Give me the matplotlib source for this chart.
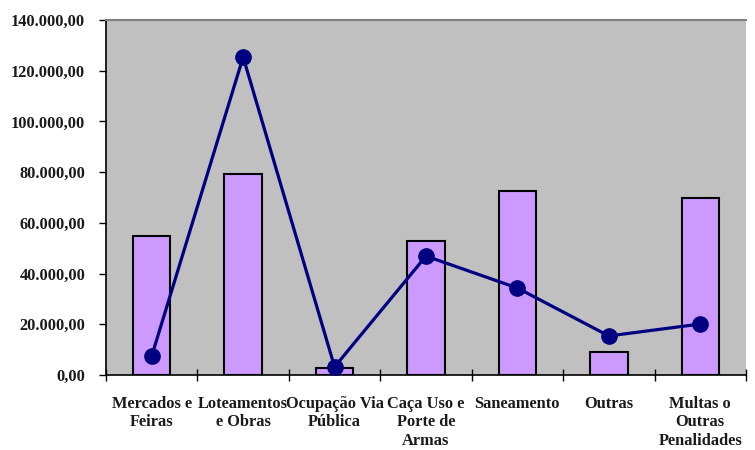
import numpy as np
import matplotlib.pyplot as plt
from matplotlib.ticker import FuncFormatter, FixedLocator

categories = ['Mercados e\nFeiras', 'Loteamentos\ne Obras', 'Ocupação Via\nPública',
              'Caça Uso e\nPorte de\nArmas', 'Saneamento', 'Outras',
              'Multas o\nOutras\nPenalidades']
bar_values = [55000, 79300, 2800, 52800, 72600, 9100, 69800]
line_values = [7500, 125400, 3200, 46900, 34300, 15400, 20100]

plt.rcParams.update({
    'font.family': 'Liberation Serif',
    'font.weight': 'bold',
    'font.size': 11.8,
})

def fmt(v, pos):
    s = f"{v:,.2f}"
    return s.replace(',', 'X').replace('.', ',').replace('X', '.')

fig = plt.figure(figsize=(7.55, 4.5), dpi=100)
ax = fig.add_axes([106/755, 1-375/450, 640/755, 355/450])
ax.set_facecolor('#c0c0c0')

x = np.arange(len(categories))
ax.bar(x, bar_values, width=0.41, color='#cc99ff', edgecolor='black', lw=1.5, zorder=2)
ax.plot(x, line_values, color='#000080', lw=2.3, marker='o', ms=11, zorder=3)

ax.set_xlim(-0.5, len(categories) - 0.5)
ax.set_ylim(0, 140000)
ax.set_yticks(np.arange(0, 140001, 20000))
ax.yaxis.set_major_formatter(FuncFormatter(fmt))

ax.xaxis.set_major_locator(FixedLocator(np.arange(-0.5, len(categories), 1)))
ax.xaxis.set_major_formatter(FuncFormatter(lambda v, p: ''))
ax.set_xticks(x, minor=True)
ax.set_xticklabels(categories, minor=True, color='#1a1a1a', linespacing=1.22, va='top')
ax.tick_params(axis='x', which='minor', length=0, pad=15)
ax.tick_params(axis='x', which='major', length=8, width=1, direction='inout')
ax.tick_params(axis='y', length=5, width=1, colors='black', labelcolor='#1a1a1a', pad=10)

ax.spines['right'].set_visible(False)
ax.spines['top'].set_color('#808080')
ax.spines['top'].set_linewidth(1.5)
ax.spines['left'].set_linewidth(1.2)
ax.spines['bottom'].set_linewidth(1.2)

fig.savefig('out.png', dpi=100)
